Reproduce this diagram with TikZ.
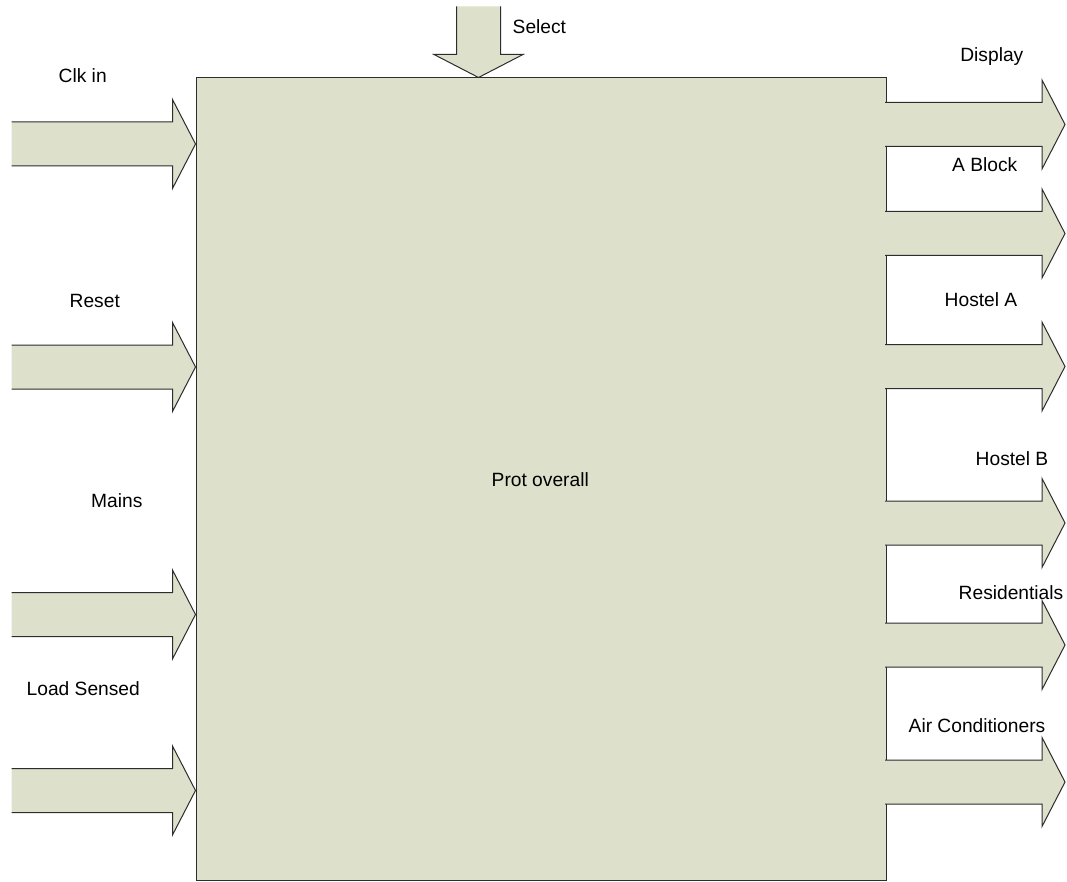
\documentclass[tikz,border=0pt]{standalone}
\usepackage{fontspec}
\setmainfont{Liberation Sans}
\begin{document}
\definecolor{blockfill}{RGB}{221,224,203}
\definecolor{edgeline}{RGB}{45,45,45}
\tikzset{
  lbl/.style={inner sep=0pt, font=\fontsize{19.2}{23}\selectfont},
  % block arrow pointing along +x with its tip at the pic origin;
  % the argument is the distance from the tip back to the open tail
  blockarrow/.pic={
    \fill[blockfill] (-#1,22) -- (-23,22) -- (-23,44.5) -- (0,0)
      -- (-23,-44.5) -- (-23,-22) -- (-#1,-22) -- cycle;
    \draw[edgeline, line width=1pt, line join=miter]
      (-#1,22) -- (-23,22) -- (-23,44.5) -- (0,0)
      -- (-23,-44.5) -- (-23,-22) -- (-#1,-22);
  }
}
\begin{tikzpicture}[x=1pt, y=-1pt]
\useasboundingbox (0,0) rectangle (1067,882);

% main block
\node[draw=edgeline, fill=blockfill, line width=1pt, minimum width=690pt,
      minimum height=802pt, inner sep=0pt] (prot) at (541,479) {};
\node[lbl, anchor=base west] (protlbl) at (491.5,486) {Prot overall};

% inputs on the left edge
\coordinate (clk)   at (prot.west |- {(0,144)});
\coordinate (rst)   at (prot.west |- {(0,367)});
\coordinate (mains) at (prot.west |- {(0,614.5)});
\coordinate (load)  at (prot.west |- {(0,790.5)});
\foreach \c in {clk,rst,mains,load}
  \pic at (\c) {blockarrow=184};

% select input on the top edge
\coordinate (sel) at (prot.north -| {(478.5,0)});
\pic[rotate=-90] at (sel) {blockarrow=71};

% outputs on the right edge
\foreach \y/\n in {124.5/o1, 233.5/o2, 366.5/o3, 523/o4, 645/o5, 782/o6}
  \coordinate (\n) at (1065,\y);
\foreach \n in {o1,o2,o3,o4,o5,o6}
  \pic at (\n) {blockarrow=180};

% labels
\node[lbl, anchor=base west] (lclk)   at (58.5,83)  {Clk in};
\node[lbl, anchor=base west] (lrst)   at (69.5,307) {Reset};
\node[lbl, anchor=base west] (lmains) at (91,507)   {Mains};
\node[lbl, anchor=base west] (lload)  at (26.5,695) {Load Sensed};
\node[lbl, anchor=base west] (lsel)   at (512.5,34) {Select};
\node[lbl, anchor=base east] (ldisp)  at (1023.5,62)  {Display};
\node[lbl, anchor=base west] (lablk)  at (952,172)  {A Block};
\node[lbl, anchor=base west] (lhosa)  at (944.5,306) {Hostel A};
\node[lbl, anchor=base west] (lhosb)  at (975.5,465) {Hostel B};
\node[lbl, anchor=base west] (lres)   at (958.5,599) {Residentials};
\node[lbl, anchor=base west] (lac)    at (908.5,732) {Air Conditioners};
\end{tikzpicture}
\end{document}
